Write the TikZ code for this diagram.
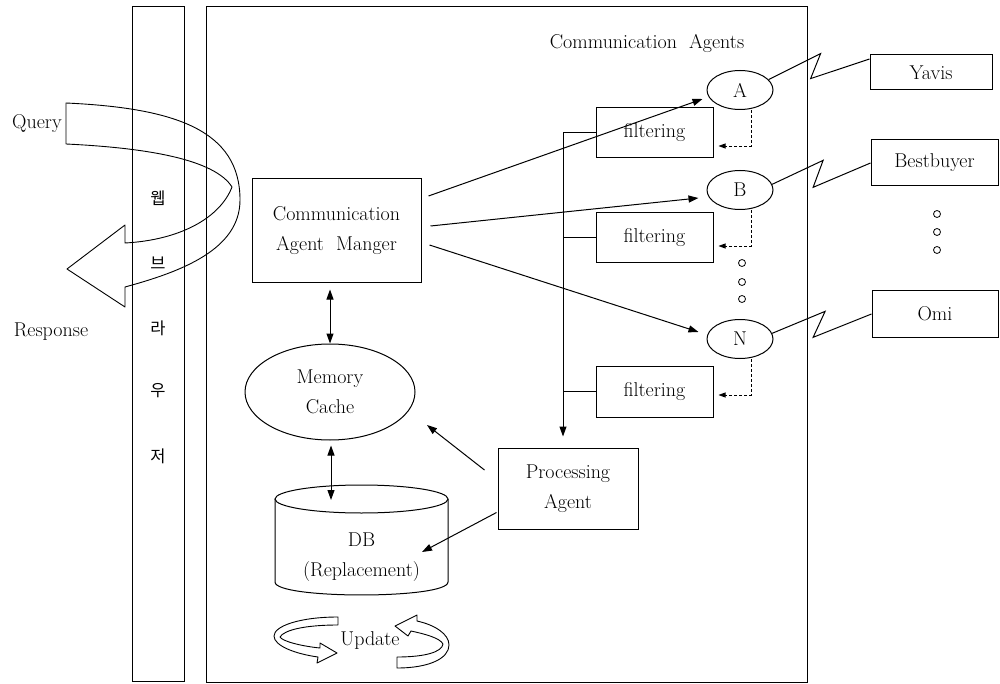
\documentclass[tikz,border=0pt]{standalone}
\usepackage{fontspec}
\newfontfamily\krfont{Noto Sans CJK KR}
\usetikzlibrary{arrows.meta,shapes.geometric,calc}

\begin{document}
\begin{tikzpicture}[x=1pt,y=-1pt,line width=1pt,
  every node/.style={font=\fontsize{20}{30}\selectfont,inner sep=0pt,align=center},
  box/.style={draw,rectangle},
  agent/.style={draw,ellipse,minimum width=66,minimum height=39},
  filterbox/.style={draw,rectangle,minimum width=117,minimum height=50},
  site/.style={draw,rectangle},
  dotmark/.style={draw,circle,minimum size=7pt,line width=0.8pt},
  kr/.style={font=\krfont\fontsize{16.5}{16.5}\selectfont},
  arr/.style={-{Triangle[length=10pt,width=7pt]}},
  dbl/.style={{Triangle[length=10pt,width=7pt]}-{Triangle[length=10pt,width=7pt]}},
  darr/.style={dash pattern=on 3pt off 2pt,line width=0.8pt,-{Triangle[length=7pt,width=5pt]}},
  ribbon/.style={line width=0.9pt,line join=round}
]
\useasboundingbox (0,0) rectangle (1000,684);

% browser strip and system frame
\node[box,minimum width=52,minimum height=674] (browser) at (158,344) {};
\node[box,minimum width=601,minimum height=675] (frame) at (506.5,344.5) {};
\node[kr] (k1) at (158,198) {웹};
\node[kr] (k2) at (158,263) {브};
\node[kr] (k3) at (158,328) {라};
\node[kr] (k4) at (158,391) {우};
\node[kr] (k5) at (158,456) {저};

% query / response U-turn arrow
\draw[ribbon] (66,103) .. controls (175,108) and (240,130) .. (240,200)
  .. controls (240,250) and (180,272) .. (125,287) -- (125,307) -- (67,269)
  -- (125,225) -- (125,243) .. controls (180,240) and (220,218) .. (232,187)
  .. controls (215,160) and (150,148) .. (66,144) -- cycle;
\node (query) at (37,124) {Query};
\node (response) at (51,332) {Response};

% main components
\node[box,minimum width=169,minimum height=104] (cam) at (336.5,231) {Communication\\Agent\ \ Manger};
\node[draw,ellipse,minimum width=170,minimum height=96] (mem) at (330,392) {Memory\\Cache};
\node[box,minimum width=140,minimum height=81] (pa) at (568,488.5) {Processing\\Agent};

% database cylinder
\draw (275,499) -- (275,582) .. controls (275,599.3) and (448,599.3) .. (448,582) -- (448,499);
\draw (361.5,499) ellipse [x radius=86.5,y radius=14];
\node (db) at (361.5,557) {DB\\(Replacement)};
\coordinate (dbtop) at (361.5,500);
\coordinate (dbin) at (422,552);

% update arrows
\draw[ribbon] (338,625) -- (338,617) .. controls (300,617) and (274,626) .. (274,636)
  .. controls (274,646) and (296,654) .. (318,657) -- (317,663) -- (337,653)
  -- (320,643) -- (320,648) .. controls (300,646) and (282,641) .. (280,637)
  .. controls (284,630) and (305,625) .. (338,625) -- cycle;
\draw[ribbon] (397,657) -- (397,668) .. controls (430,668) and (449,658) .. (449,645)
  .. controls (449,634) and (435,625) .. (417,621) -- (417,615) -- (395,626)
  -- (408,636) -- (411,631) .. controls (425,634) and (440,638) .. (443,644)
  .. controls (442,652) and (425,657) .. (397,657) -- cycle;
\node (update) at (370,641) {Update};

% communication agents
\node (cagents) at (647,43) {Communication\ \ Agents};
\node[agent] (a) at (740,90) {A};
\node[agent] (b) at (740,190) {B};
\node[agent] (n) at (740,339) {N};
\node[filterbox] (f1) at (654.5,133) {filtering};
\node[filterbox] (f2) at (654.5,238) {filtering};
\node[filterbox,minimum height=51] (f3) at (654.5,391.5) {filtering};
\node[dotmark] (d1) at (742,263) {};
\node[dotmark] (d2) at (742,282) {};
\node[dotmark] (d3) at (742,299) {};

% external sites
\node[site,minimum width=122,minimum height=35] (yavis) at (931,72.5) {Yavis};
\node[site,minimum width=127,minimum height=46] (best) at (934.5,163) {Bestbuyer};
\node[site,minimum width=126,minimum height=46] (omi) at (935,314) {Omi};
\node[dotmark] (e1) at (937,214) {};
\node[dotmark] (e2) at (937,232) {};
\node[dotmark] (e3) at (937,250) {};

% manager to agents
\draw[arr] ([shift={(7,-35)}]cam.east) -- ([shift={(-4,9)}]a.west);
\draw[arr] ([shift={(9,-5)}]cam.east) -- ([shift={(-8,8)}]b.west);
\draw[arr] ([shift={(8,14)}]cam.east) -- ([shift={(-8,-7)}]n.west);

% filtering bus towards the processing agent
\coordinate (bus) at (563,133);
\draw (f1.west) -- (bus);
\draw (f2.west) -- (f2.west -| bus);
\draw (f3.west) -- (f3.west -| bus);
\draw[arr] (bus) -- ([yshift=11pt]bus |- pa.north);

% agent results back to filters
\draw[darr] ([xshift=11pt]a.south) |- ([shift={(5,13)}]f1.east);
\draw[darr] ([xshift=11pt]b.south) |- ([shift={(5,8)}]f2.east);
\draw[darr] ([xshift=11pt]n.south) |- ([shift={(5,3.5)}]f3.east);

% network links to sites
\draw (a.20) -- ++(52,-26) -- ++(-10,25) -- ([yshift=13.5pt]yavis.west);
\draw (b.10) -- ++(51,-24) -- ++(-10,27) -- (best.west);
\draw (n.10) -- ++(53,-22) -- ++(-12,26) -- (omi.west);

% cache / database / processing links
\draw[dbl] ([yshift=-6pt]mem.north |- cam.south) -- (mem.north);
\draw[dbl] ([shift={(1,5)}]mem.south) -- ([xshift=1pt]mem.south |- dbtop);
\draw[arr] ([shift={(-13,-18.5)}]pa.west) -- ([shift={(97,33)}]mem.center);
\draw[arr] ([shift={(-1,-17)}]pa.south west) -- (dbin);
\end{tikzpicture}
\end{document}
